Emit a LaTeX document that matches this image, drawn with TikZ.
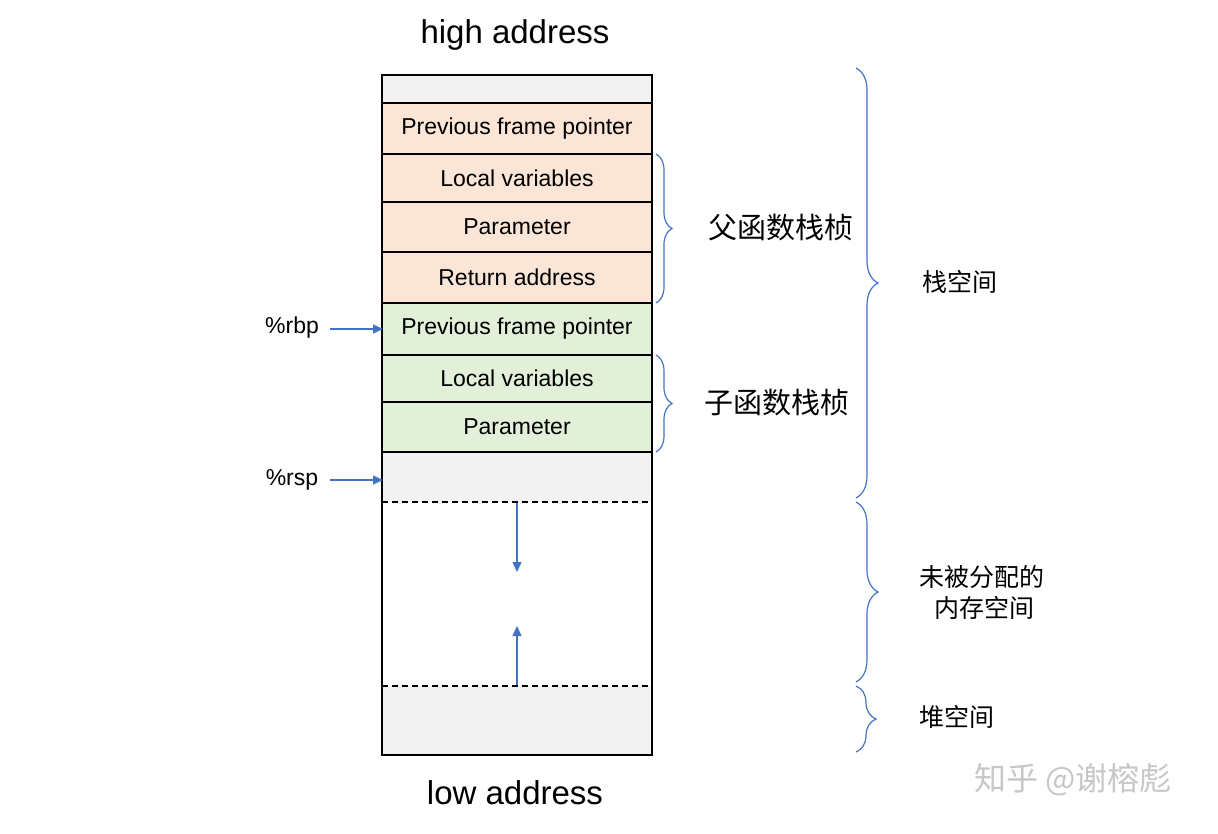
\documentclass[tikz,border=0pt]{standalone}
\usepackage{fontspec}
\setmainfont{Liberation Sans}
\newfontfamily\cjk{Noto Sans CJK SC}
\usetikzlibrary{decorations.pathreplacing,arrows.meta}
\definecolor{orf}{HTML}{FBE5D6}
\definecolor{grf}{HTML}{E2F0D9}
\definecolor{gyf}{HTML}{F2F2F2}
\definecolor{bl}{HTML}{4472C4}
\begin{document}
\begin{tikzpicture}[x=1pt,y=-1pt,
 cell/.style={draw=black,line width=1.6pt},
 lbl/.style={font=\fontsize{23}{25}\selectfont},
 br/.style={draw=bl,line width=1.2pt,decorate,decoration={brace,amplitude=#1}},
 cj/.style={font=\cjk\fontsize{25}{31}\selectfont,align=left},
 ar/.style={draw=bl,line width=1.3pt,-{Triangle[length=10pt,width=9pt]}}]
\useasboundingbox (0,0) rectangle (1218,833);
\fill[white] (0,0) rectangle (1218,833);
% cells
\filldraw[cell,fill=gyf] (382,75) rectangle (652,103);
\filldraw[cell,fill=orf] (382,103) rectangle (652,154) node[midway,lbl] (pf1) {Previous frame pointer};
\filldraw[cell,fill=orf] (382,154) rectangle (652,202) node[midway,lbl] (lv1) {Local variables};
\filldraw[cell,fill=orf] (382,202) rectangle (652,252) node[midway,lbl] (pa1) {Parameter};
\filldraw[cell,fill=orf] (382,252) rectangle (652,303) node[midway,lbl] (ra1) {Return address};
\filldraw[cell,fill=grf] (382,303) rectangle (652,355) node[midway,lbl] (pf2) {Previous frame pointer};
\filldraw[cell,fill=grf] (382,355) rectangle (652,402) node[midway,lbl] (lv2) {Local variables};
\filldraw[cell,fill=grf] (382,402) rectangle (652,452) node[midway,lbl] (pa2) {Parameter};
\fill[gyf] (382,453) rectangle (652,502);
\fill[gyf] (382,686) rectangle (652,755);
\draw[line width=1.6pt] (382,452) -- (382,755) -- (652,755) -- (652,452);
\draw[line width=1.6pt] (382,452) -- (652,452);
\draw[line width=1.6pt,dash pattern=on 6pt off 4pt] (382,502) -- (652,502);
\draw[line width=1.6pt,dash pattern=on 6pt off 4pt] (382,686) -- (652,686);
% inner arrows
\coordinate (d1) at (517,503); \coordinate (d2) at (517,572);
\coordinate (u1) at (517,685); \coordinate (u2) at (517,626);
\draw[ar] (d1) -- (d2);
\draw[ar] (u1) -- (u2);
% pointers
\node[lbl] (rbp) at (292,328) {\%rbp};
\node[lbl] (rsp) at (292,480) {\%rsp};
\coordinate (rbpt) at (383,329); \coordinate (rspt) at (383,480);
\draw[ar] (330,329) -- (rbpt);
\draw[ar] (330,480) -- (rspt);
% titles
\node[font=\fontsize{33}{35}\selectfont] (hi) at (515,35) {high address};
\node[font=\fontsize{33}{35}\selectfont] (lo) at (515,793) {low address};
% braces
\draw[br=16pt] (656,154) -- (656,303);
\node[cj,font=\cjk\fontsize{29}{32}\selectfont] (f1) at (781,228) {父函数栈桢};
\draw[br=16pt] (656,355) -- (656,452);
\node[cj,font=\cjk\fontsize{29}{32}\selectfont] (f2) at (777,403) {子函数栈桢};
\draw[br=22pt] (856,68) -- (856,498);
\node[cj] (s1) at (960,282) {栈空间};
\draw[br=22pt] (856,502) -- (856,682);
\node[cj] (s2) at (982,592) {未被分配的\\\hspace*{0.6em}内存空间};
\draw[br=20pt] (856,686) -- (856,752);
\node[cj] (s3) at (957,717) {堆空间};
\node[font=\cjk\fontsize{32}{34}\selectfont,text=black!22] (wm) at (1073,780) {知乎 @谢榕彪};
\end{tikzpicture}
\end{document}
